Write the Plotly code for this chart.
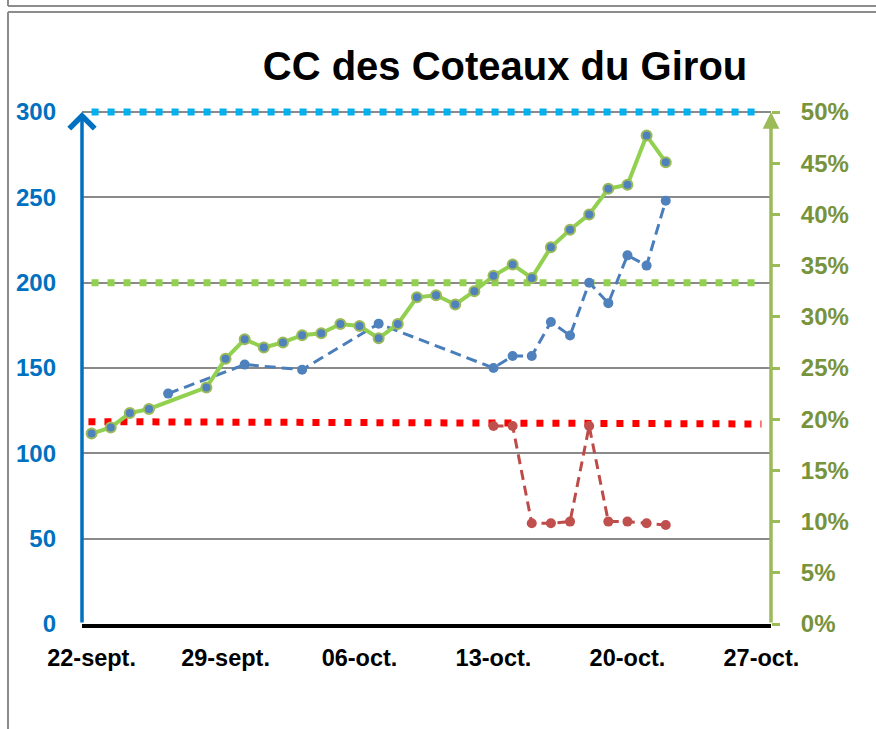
import plotly.graph_objects as go

# ---------------- data ----------------
green_dates = ["2020-09-22", "2020-09-23", "2020-09-24", "2020-09-25", "2020-09-28",
               "2020-09-29", "2020-09-30", "2020-10-01", "2020-10-02", "2020-10-03",
               "2020-10-04", "2020-10-05", "2020-10-06", "2020-10-07", "2020-10-08",
               "2020-10-09", "2020-10-10", "2020-10-11", "2020-10-12", "2020-10-13",
               "2020-10-14", "2020-10-15", "2020-10-16", "2020-10-17", "2020-10-18",
               "2020-10-19", "2020-10-20", "2020-10-21", "2020-10-22"]
green_pct = [18.6, 19.2, 20.6, 21.0, 23.1,
             25.9, 27.8, 27.0, 27.5, 28.2,
             28.4, 29.3, 29.1, 27.9, 29.3,
             31.9, 32.1, 31.2, 32.5, 34.0,
             35.1, 33.8, 36.8, 38.5, 40.0,
             42.5, 42.9, 47.7, 45.1]

blue_dates = ["2020-09-26", "2020-09-30", "2020-10-03", "2020-10-07", "2020-10-13",
              "2020-10-14", "2020-10-15", "2020-10-16", "2020-10-17", "2020-10-18",
              "2020-10-19", "2020-10-20", "2020-10-21", "2020-10-22"]
blue_values = [135, 152, 149, 176, 150, 157, 157, 177, 169, 200, 188, 216, 210, 248]

red_dates = ["2020-10-13", "2020-10-14", "2020-10-15", "2020-10-16", "2020-10-17",
             "2020-10-18", "2020-10-19", "2020-10-20", "2020-10-21", "2020-10-22"]
red_values = [116, 116, 59, 59, 60, 116, 60, 60, 59, 58]

# reference (threshold) series
thr_dates = ["2020-09-22", "2020-10-27"]
thr_cyan = [300, 300]
thr_green = [200, 200]
red_thr_dates = ["2020-09-21", "2020-10-27"]
red_thr = [118.6, 117.2]

tick_dates = ["2020-09-22", "2020-09-29", "2020-10-06", "2020-10-13", "2020-10-20", "2020-10-27"]
tick_labels = ["22-sept.", "29-sept.", "06-oct.", "13-oct.", "20-oct.", "27-oct."]
left_ticks = [0, 50, 100, 150, 200, 250, 300]
right_ticks = [0, 5, 10, 15, 20, 25, 30, 35, 40, 45, 50]
right_labels = [f"{v}%" for v in right_ticks]

# ---------------- figure ----------------
W, H = 876, 729
ML, MR, MT, MB = 82, 105, 102, 105
plot_h = H - MT - MB
ymax = 300 * plot_h / 512.0

FONT = "Liberation Sans, Arial, sans-serif"

fig = go.Figure()

fig.add_trace(go.Scatter(x=thr_dates, y=thr_cyan, mode="lines",
                         line=dict(color="#00B0F0", width=7, dash="7px,9px"),
                         hoverinfo="skip", showlegend=False))
fig.add_trace(go.Scatter(x=thr_dates, y=thr_green, mode="lines",
                         line=dict(color="#92D050", width=7, dash="7px,9px"),
                         hoverinfo="skip", showlegend=False))
fig.add_trace(go.Scatter(x=red_thr_dates, y=red_thr, mode="lines",
                         line=dict(color="#FF0000", width=7, dash="7px,9px"),
                         hoverinfo="skip", showlegend=False))

fig.add_trace(go.Scatter(x=blue_dates, y=blue_values, mode="lines+markers",
                         line=dict(color="#4A7EBB", width=3, dash="11px,6px"),
                         marker=dict(color="#4F81BD", size=10),
                         cliponaxis=False, showlegend=False))
fig.add_trace(go.Scatter(x=red_dates, y=red_values, mode="lines+markers",
                         line=dict(color="#BE4B48", width=3, dash="10px,6px"),
                         marker=dict(color="#C0504D", size=10),
                         cliponaxis=False, showlegend=False))
fig.add_trace(go.Scatter(x=green_dates, y=green_pct, mode="lines+markers", yaxis="y2",
                         line=dict(color="#92D050", width=4),
                         marker=dict(color="#4F81BD", size=10,
                                     line=dict(color="#9BBB59", width=2)),
                         cliponaxis=False, showlegend=False))

fig.update_layout(
    width=W, height=H,
    margin=dict(l=ML, r=MR, t=MT, b=MB),
    paper_bgcolor="white", plot_bgcolor="white",
    font=dict(family=FONT),
    title=dict(text="<b>CC des Coteaux du Girou</b>", x=505 / W, xanchor="center",
               y=1 - 66 / H, yanchor="middle",
               font=dict(family=FONT, size=40, color="black")),
    xaxis=dict(type="date", range=["2020-09-21 12:00", "2020-10-27 12:00"],
               tickvals=tick_dates, ticktext=tick_labels,
               showgrid=False, zeroline=False,
               showline=True, linecolor="black", linewidth=4,
               ticks="", ticklabelstandoff=10,
               tickfont=dict(family=FONT, size=23.5, color="black", weight="bold")),
    yaxis=dict(range=[0, ymax], tickvals=left_ticks,
               showgrid=True, gridcolor="#8A8A8A", gridwidth=1.5,
               zeroline=False, showline=False, ticks="",
               ticklabelstandoff=25,
               tickfont=dict(family=FONT, size=24, color="#0070C0", weight="bold")),
    yaxis2=dict(range=[0, ymax / 6.0], overlaying="y", side="right",
                tickvals=right_ticks, ticktext=right_labels,
                showgrid=False, zeroline=False, showline=False,
                ticks="outside", ticklen=8, tickwidth=3, tickcolor="#9BBB59",
                ticklabelstandoff=16,
                tickfont=dict(family=FONT, size=24, color="#77933C", weight="bold")),
)

# axis lines with arrows
fig.add_annotation(x=0, xref="paper", y=300, yref="y", ax=0, ay=512, axref="pixel", ayref="pixel",
                   text="", showarrow=True, arrowhead=4, arrowsize=1.4, arrowwidth=3.5,
                   arrowcolor="#0070C0")
fig.add_annotation(x=1, xref="paper", y=50, yref="y2", ax=0, ay=512, axref="pixel", ayref="pixel",
                   text="", showarrow=True, arrowhead=2, arrowsize=0.95, arrowwidth=3.5,
                   arrowcolor="#9BBB59")

# outer frames (decoration)
def px_to_paper_x(px):
    return (px - ML) / (W - ML - MR)

def px_to_paper_y(py):
    return (H - MB - py) / plot_h

frame = dict(color="#8C8C8C", width=2)
fig.add_shape(type="line", xref="paper", yref="paper",
              x0=px_to_paper_x(8), x1=px_to_paper_x(880), y0=px_to_paper_y(6), y1=px_to_paper_y(6), line=frame)
fig.add_shape(type="line", xref="paper", yref="paper",
              x0=px_to_paper_x(8), x1=px_to_paper_x(8), y0=px_to_paper_y(-2), y1=px_to_paper_y(6), line=frame)
fig.add_shape(type="line", xref="paper", yref="paper",
              x0=px_to_paper_x(8), x1=px_to_paper_x(880), y0=px_to_paper_y(12), y1=px_to_paper_y(12), line=frame)
fig.add_shape(type="line", xref="paper", yref="paper",
              x0=px_to_paper_x(8), x1=px_to_paper_x(8), y0=px_to_paper_y(12), y1=px_to_paper_y(735), line=frame)

fig.write_html("out.html", config={"displayModeBar": False},
               post_script="document.body.style.margin='0';")
